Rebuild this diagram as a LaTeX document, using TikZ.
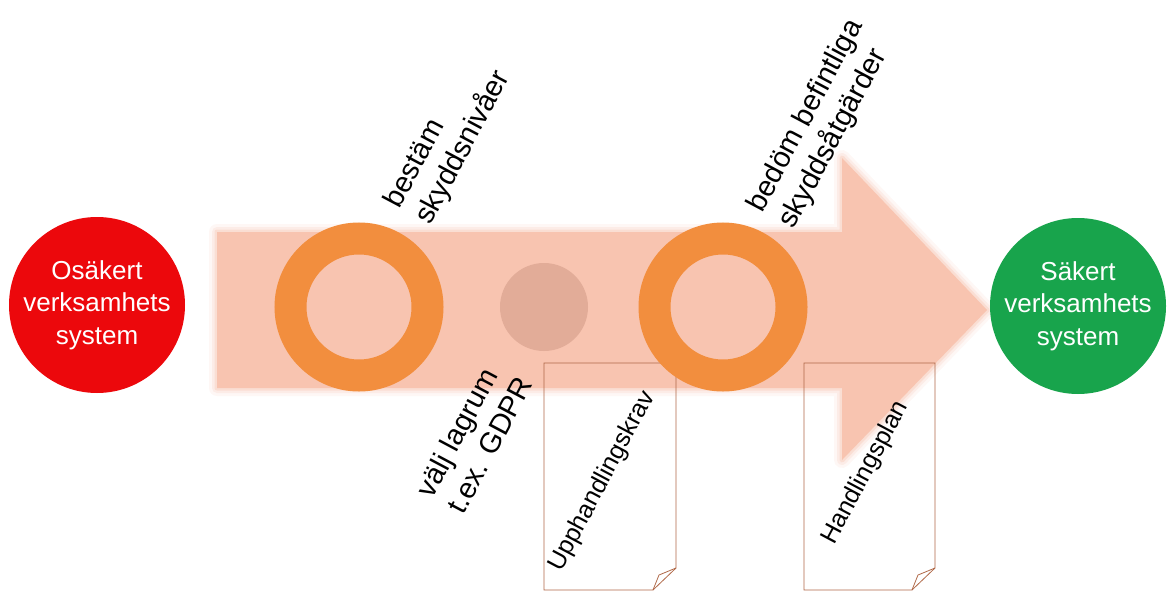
\documentclass[tikz,border=0pt]{standalone}
\usepackage{fontspec}
\setmainfont{Liberation Sans}
\definecolor{peach}{RGB}{248,196,176}
\definecolor{ringorange}{RGB}{242,142,62}
\definecolor{dotpink}{RGB}{226,172,152}
\definecolor{unsafe}{RGB}{236,8,12}
\definecolor{safe}{RGB}{24,164,76}
\definecolor{docline}{RGB}{176,104,72}
\tikzset{
  state/.style={circle, minimum size=176pt, inner sep=0pt, text=white, align=center,
    font=\fontsize{26}{32.5}\selectfont},
  ring/.style={circle, draw=ringorange, line width=32pt, minimum size=137pt, inner sep=0pt},
  steplabel/.style={rotate=62, anchor=south west, inner sep=0pt, align=left,
    font=\fontsize{29}{35}\selectfont},
  doclabel/.style={rotate=62, anchor=base west, inner sep=0pt, font=\fontsize{25}{28}\selectfont},
  docpage/.style={draw=docline, line width=0.8pt},
}
\begin{document}
\begin{tikzpicture}[x=1pt,y=-1pt]
\clip (0,0) rectangle (1169,591);
\fill[white] (0,0) rectangle (1169,591);
% big arrow, soft edge
\foreach \w/\o in {16/0.12, 10/0.2, 5/0.35}
  \draw[peach, line width=\w pt, opacity=\o, line join=round]
    (217,232) -- (842,232) -- (842,158) -- (987,310) -- (842,460) -- (842,388) -- (217,388) -- cycle;
\fill[peach] (217,232) -- (842,232) -- (842,158) -- (987,310) -- (842,460) -- (842,388) -- (217,388) -- cycle;
% documents
\draw[docpage] (544,363) -- (676,363) -- (676,568) -- (653,590) -- (544,590) -- cycle;
\draw[docpage] (676,568) -- (659,575) -- (653,590);
\draw[docpage] (804,363) -- (935,363) -- (935,568) -- (912,590) -- (804,590) -- cycle;
\draw[docpage] (935,568) -- (918,575) -- (912,590);
\node[doclabel] (krav) at (561,573) {Upphandlingskrav};
\node[doclabel] (plan) at (834,546) {Handlingsplan};
% steps
\node[ring] (niva) at (359,307) {};
\node[circle, fill=dotpink, minimum size=88pt, inner sep=0pt] (lag) at (544,307) {};
\node[ring] (atgard) at (723,307) {};
\node[steplabel] (nivatext) at (436,229) {bestäm\\skyddsnivåer};
\node[steplabel] (atgardtext) at (799,233) {bedöm befintliga\\skyddsåtgärder};
\node[steplabel] (lagtext) at (464,516) {välj lagrum\\t.ex. GDPR};
% start and goal
\node[state, fill=unsafe] (osakert) at (97,305) {Osäkert\\verksamhets\\system};
\node[state, fill=safe] (sakert) at (1078,306) {Säkert\\verksamhets\\system};
\end{tikzpicture}
\end{document}
